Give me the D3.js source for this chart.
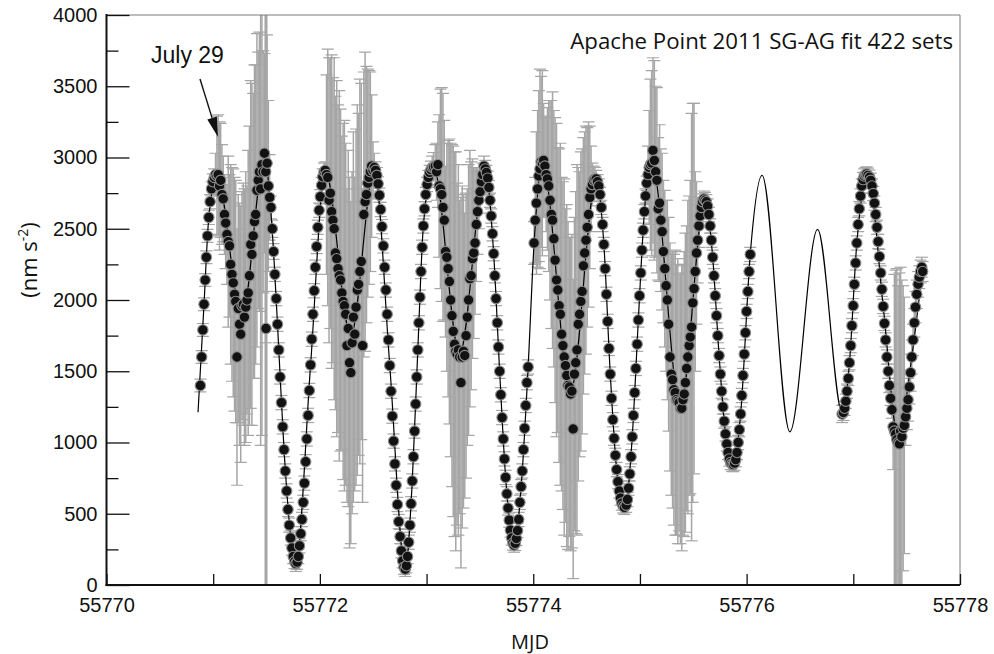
<!DOCTYPE html>
<html>
<head>
<meta charset="utf-8">
<script src="https://cdn.jsdelivr.net/npm/d3@7"></script>
<style>
  body { margin: 0; background: #fff; }
  .axis text { font-family: "Liberation Sans", Arial, sans-serif; font-size: 20px; fill: #111; }
  .axis line { stroke: #111; stroke-width: 1.3; }
  .label { font-family: "Open Sans", sans-serif; fill: #111; }
</style>
</head>
<body>
<svg id="chart" width="994" height="654"></svg>
<script>
// MJD offset; observation times are days after this base
const mjdBase = 55770;

const xTicks = [55770, 55771, 55772, 55773, 55774, 55775, 55776, 55777, 55778];
const yMajor = [0, 500, 1000, 1500, 2000, 2500, 3000, 3500, 4000];
const yMinor = [250, 750, 1250, 1750, 2250, 2750, 3250, 3750];

// fitted tide curve (black line), days after base / nm s-2
const modelDay = [0.858, 0.914, 0.959, 1.035, 1.270, 1.480, 1.566, 1.615, 1.664, 1.775,
  1.913, 2.050, 2.290, 2.510, 2.655, 2.800, 2.866, 2.918, 2.970, 3.065,
  3.310, 3.550, 3.629, 3.685, 3.741, 3.820, 3.897, 3.952, 4.008, 4.085,
  4.350, 4.590, 4.662, 4.722, 4.782, 4.860, 4.928, 4.985, 5.042, 5.110,
  5.380, 5.610, 5.682, 5.742, 5.802, 5.875, 5.944, 6.034, 6.145, 6.405,
  6.665, 6.900, 6.964, 7.033, 7.140, 7.280, 7.420, 7.548, 7.650];
const modelGal = [1212, 1970, 2580, 2870, 1880, 2990, 2340, 1650, 950, 150,
  1545, 2910, 1750, 2920, 1540, 110, 730, 1650, 2520, 2935,
  1620, 2910, 2325, 1500, 755, 280, 800, 1530, 2400, 2960,
  1360, 2840, 2390, 1480, 810, 545, 1040, 1860, 2620, 2960,
  1260, 2700, 2300, 1610, 1060, 845, 1200, 2320, 2875, 1075,
  2495, 1195, 1560, 2400, 2870, 1955, 1040, 1600, 2220];

// measured sets: time (days after base), gravity, error bar half-length
const obsDay = [
  0.880,0.892,0.903,0.914,0.925,0.936,0.947,0.959,0.971,0.984,0.997,1.010,1.022,1.035,
  1.047,1.059,1.070,1.082,1.094,1.106,1.117,1.129,1.141,1.153,1.164,1.176,1.188,1.200,1.211,1.223,1.235,1.247,1.258,1.270,
  1.282,1.293,1.305,1.317,1.328,1.340,1.352,1.363,1.375,1.387,1.398,1.410,1.422,1.433,1.445,1.457,1.468,1.480,
  1.492,1.495,1.505,1.517,1.529,1.541,1.554,1.566,1.578,1.591,1.603,1.615,1.627,1.640,1.652,1.664,1.676,1.689,1.701,1.713,1.726,1.738,1.750,1.763,1.775,
  1.786,1.798,1.809,1.821,1.832,1.844,1.855,1.867,1.878,1.890,1.901,1.913,1.924,1.935,1.947,1.958,1.970,1.981,1.993,2.004,2.016,2.027,2.039,2.050,
  2.062,2.074,2.086,2.098,2.110,2.122,2.134,2.146,2.158,2.170,2.182,2.194,2.206,2.218,2.230,2.242,2.254,2.266,2.278,2.290,
  2.302,2.314,2.327,2.339,2.351,2.363,2.375,2.388,2.400,2.412,2.424,2.437,2.449,2.461,2.473,2.485,2.498,2.510,
  2.522,2.534,2.546,2.558,2.570,2.582,2.595,2.607,2.619,2.631,2.643,2.655,2.667,2.679,2.691,2.703,2.715,2.727,2.739,2.752,2.764,2.776,2.788,2.800,
  2.811,2.822,2.833,2.844,2.855,2.866,2.877,2.888,2.898,2.908,2.918,2.928,2.938,2.948,2.959,2.970,2.981,2.993,3.005,3.017,3.029,3.041,3.053,3.065,
  3.082,3.094,3.106,3.118,3.130,3.142,3.154,3.166,3.178,3.190,3.202,3.214,3.226,3.238,3.250,3.262,3.274,3.286,3.298,3.310,
  3.322,3.334,3.346,3.358,3.370,3.382,3.394,3.406,3.418,3.430,3.442,3.454,3.466,3.478,3.490,3.502,3.514,3.526,3.538,3.550,
  3.561,3.573,3.584,3.595,3.606,3.618,3.629,3.640,3.651,3.663,3.674,3.685,3.696,3.708,3.719,3.730,3.741,3.753,3.764,3.775,3.786,3.798,3.809,3.820,
  3.831,3.842,3.853,3.864,3.875,3.886,3.897,3.908,3.919,3.930,3.941,3.952,4.008,4.019,4.030,4.041,4.052,4.063,4.074,4.085,
  4.097,4.109,4.121,4.133,4.145,4.157,4.169,4.181,4.193,4.205,4.218,4.230,4.242,4.254,4.266,4.278,4.290,4.302,4.314,4.326,4.338,4.350,
  4.362,4.374,4.386,4.398,4.410,4.422,4.434,4.446,4.458,4.470,4.482,4.494,4.506,4.518,4.530,4.542,4.554,4.566,4.578,4.590,
  4.602,4.614,4.626,4.638,4.650,4.662,4.674,4.686,4.698,4.710,4.722,4.734,4.746,4.758,4.770,4.782,4.794,4.806,4.818,4.830,4.842,4.854,
  4.871,4.883,4.894,4.905,4.917,4.928,4.939,4.951,4.962,4.974,4.985,4.996,5.008,5.019,5.030,5.042,5.053,5.064,5.076,5.087,5.098,5.110,
  5.122,5.135,5.147,5.159,5.171,5.184,5.196,5.208,5.220,5.233,5.245,5.257,5.269,5.282,5.294,5.306,5.318,5.331,5.343,5.355,5.367,5.380,
  5.392,5.403,5.415,5.426,5.438,5.449,5.461,5.472,5.484,5.495,5.507,5.518,5.530,5.541,5.553,5.564,5.576,5.587,5.599,5.610,
  5.622,5.634,5.646,5.658,5.670,5.682,5.694,5.706,5.718,5.730,5.742,5.754,5.766,5.778,5.790,5.802,5.814,5.826,5.838,5.850,5.862,5.875,
  5.887,5.898,5.910,5.921,5.932,5.944,5.955,5.966,5.978,5.989,6.000,6.012,6.023,6.034,
  6.895,6.907,6.918,6.930,6.941,6.953,6.964,6.976,6.987,6.999,7.010,7.022,7.033,7.045,7.056,7.068,7.079,7.091,7.102,7.114,7.125,7.137,
  7.152,7.163,7.175,7.187,7.198,7.210,7.222,7.233,7.245,7.257,7.268,7.280,7.292,7.303,7.315,7.327,7.338,7.350,7.362,7.373,7.385,7.397,7.408,7.420,
  7.432,7.443,7.455,7.467,7.478,7.490,7.502,7.513,7.525,7.537,7.548,7.560,7.572,7.583,7.595,7.607,7.618,7.630,7.642,7.650
];
const obsGal = [
  1400,1600,1790,1970,2140,2300,2450,2580,2690,2780,2830,2860,2880,2870,
  2880,2800,2840,2740,2710,2600,2540,2460,2410,2380,2250,2180,2120,2040,1990,1600,1940,1830,1760,1960,
  1970,1880,1950,2000,2050,2170,2390,2320,2450,2550,2600,2770,2840,2900,2780,2950,2900,3030,
  2900,1800,2960,2800,2720,2650,2500,2340,2180,2010,1830,1650,1460,1280,1110,950,800,660,530,420,330,260,200,165,150,
  160,200,275,360,460,580,715,865,1025,1190,1365,1545,1725,1900,2065,2230,2375,2510,2630,2725,2805,2865,2900,2910,
  2880,2860,2700,2750,2620,2560,2500,2330,2290,2220,2170,2140,2050,1990,1960,1900,1680,1800,1560,1490,
  1700,1880,1760,1950,2070,2110,2200,2270,1680,2600,2690,2740,2820,2860,2900,2940,2910,2930,
  2910,2875,2815,2735,2635,2515,2380,2230,2070,1900,1720,1540,1360,1185,1010,850,700,565,445,340,240,170,125,110,
  135,200,300,420,570,730,900,1080,1270,1460,1650,1840,2020,2200,2370,2520,2640,2740,2810,2860,2895,2915,2930,2935,
  2940,2900,2950,2800,2780,2740,2650,2560,2340,2300,2220,2130,2000,1890,1780,1690,1640,1620,1650,1600,
  1420,1600,1640,1610,1750,1880,2000,2150,2170,2290,2330,2400,2530,2620,2700,2760,2830,2880,2940,2920,
  2895,2855,2790,2700,2590,2465,2325,2170,2010,1840,1670,1500,1335,1175,1025,885,755,640,540,455,385,330,295,280,
  292,326,382,460,580,690,800,950,1100,1260,1420,1530,2400,2560,2680,2780,2870,2920,2970,2960,
  2980,2940,2880,2850,2800,2700,2600,2560,2430,2280,2140,2070,1960,1900,1760,1680,1600,1540,1470,1400,1390,1340,
  1360,1095,1480,1560,1650,1830,1900,1990,2060,2240,2330,2420,2510,2600,2720,2780,2810,2840,2850,2850,
  2830,2800,2740,2650,2530,2390,2220,2040,1850,1660,1480,1310,1160,1030,910,810,725,660,610,575,555,545,
  560,600,680,780,900,1040,1190,1350,1520,1690,1860,2030,2190,2350,2490,2620,2730,2820,2880,2930,2950,2960,
  3050,2980,2900,2840,2640,2680,2560,2480,2340,2220,2100,2000,1830,1600,1480,1440,1370,1350,1300,1290,1280,1240,
  1240,1300,1340,1420,1520,1600,1680,1740,1810,1980,2080,2200,2330,2420,2520,2590,2650,2690,2710,2700,
  2690,2660,2600,2520,2420,2300,2170,2030,1890,1750,1610,1480,1360,1250,1150,1060,990,930,885,860,848,845,
  855,880,930,1000,1090,1200,1330,1470,1620,1770,1920,2060,2200,2320,
  1200,1210,1240,1290,1360,1450,1560,1680,1820,1960,2110,2260,2400,2530,2640,2730,2800,2845,2870,2880,2885,2875,
  2862,2840,2800,2747,2680,2600,2510,2410,2305,2190,2075,1955,1836,1720,1600,1500,1400,1310,1230,1110,1080,1060,1020,1000,
  990,1080,1040,1100,1120,1180,1240,1300,1390,1490,1600,1720,1840,1950,2040,2110,2160,2200,2230,2200
];
const obsErr = [
  45,45,45,45,45,45,45,50,50,50,55,60,150,420,
  420,450,400,350,300,280,320,350,600,500,700,750,800,820,850,900,800,850,900,800,
  850,900,950,800,1000,1050,1150,1200,1000,1100,1050,1100,900,980,1800,1900,850,700,
  1200,3000,900,600,300,80,60,55,50,50,50,50,50,50,50,50,50,50,50,50,50,50,50,50,55,
  50,50,50,50,50,50,50,50,50,50,50,50,50,50,50,50,50,50,50,50,55,55,60,60,
  700,900,1000,950,1100,1000,1200,1100,1250,1150,1300,1200,1100,1250,1300,1200,1100,1250,1300,1200,
  1200,1300,1100,1250,1300,1200,1350,1250,1100,1000,1050,900,800,750,700,500,200,100,
  60,55,50,50,50,50,50,50,50,50,50,50,50,50,50,50,50,50,50,50,50,50,50,50,
  50,50,50,50,50,50,50,50,50,50,50,50,50,50,50,50,50,50,50,50,50,60,80,100,
  150,200,300,500,700,750,800,700,600,800,900,1000,1100,1200,1300,1350,1400,1200,1300,1100,
  1300,1200,1100,1000,1000,900,950,900,800,700,600,500,400,300,200,150,100,80,70,60,
  50,50,50,50,50,50,50,50,50,50,50,50,50,50,50,50,50,50,50,50,50,50,50,50,
  50,50,50,50,50,50,50,50,50,50,50,50,150,300,500,550,600,700,600,650,
  400,350,400,500,600,700,800,900,900,1000,1100,1000,1100,1200,1100,1150,1250,1100,1200,1150,1050,1100,
  1100,1050,1100,1200,1300,1100,1000,1050,1000,900,850,800,700,650,500,300,150,100,80,60,
  50,50,50,50,50,50,50,50,50,50,50,50,50,50,50,50,50,50,50,50,50,50,
  50,50,50,50,50,50,50,50,50,50,50,50,50,50,50,50,50,50,200,400,600,650,
  650,700,600,650,500,550,500,550,500,550,600,700,750,800,850,900,950,1000,950,1000,900,950,
  1000,950,1000,1050,1000,1100,1050,1100,1500,1400,1300,700,500,300,150,80,60,55,55,55,
  50,50,50,50,50,50,50,50,50,50,50,50,50,50,50,50,50,50,50,50,50,50,
  50,50,50,50,50,50,50,50,50,50,50,50,50,50,
  60,55,50,50,50,50,50,50,50,50,50,50,50,50,50,50,50,50,50,50,50,50,
  50,50,50,50,50,50,50,50,50,50,50,50,50,50,50,50,50,50,60,300,1100,1150,1200,1100,
  1200,1150,1100,1000,900,200,150,150,120,130,120,110,100,110,100,90,80,80,70,70
];

if (obsDay.length !== obsGal.length || obsDay.length !== obsErr.length) {
  throw new Error("length mismatch " + obsDay.length + " " + obsGal.length + " " + obsErr.length);
}

const obs = obsDay.map((d, i) => ({ mjd: mjdBase + d, g: obsGal[i], e: obsErr[i] }));
const model = modelDay.map((d, i) => ({ mjd: mjdBase + d, g: modelGal[i] }));

const svg = d3.select("#chart");
const plotLeft = 106.5, plotRight = 960, plotTop = 15, plotBottom = 585;

const x = d3.scaleLinear().domain([55770, 55778]).range([plotLeft, plotRight]);
const y = d3.scaleLinear().domain([0, 4000]).range([plotBottom, plotTop]);

svg.append("defs").append("clipPath").attr("id", "plotClip")
  .append("rect")
  .attr("x", plotLeft).attr("y", plotTop)
  .attr("width", plotRight - plotLeft).attr("height", plotBottom - plotTop);

const plot = svg.append("g").attr("clip-path", "url(#plotClip)");

// error bars; the very long ones read a bit heavier in the original
const bars = plot.append("g").attr("class", "errorbars")
  .attr("stroke", "#a6a6a6");

bars.selectAll("line.bar")
  .data(obs)
  .enter()
  .append("line")
  .attr("class", "bar")
  .attr("x1", d => x(d.mjd)).attr("x2", d => x(d.mjd))
  .attr("y1", d => y(d.g - d.e)).attr("y2", d => y(d.g + d.e))
  .attr("stroke-width", d => d.e > 2000 ? 3 : 1.5);

const caps = [];
obs.forEach(d => { caps.push({ mjd: d.mjd, g: d.g - d.e }); caps.push({ mjd: d.mjd, g: d.g + d.e }); });
bars.selectAll("line.cap")
  .data(caps)
  .enter()
  .append("line")
  .attr("class", "cap")
  .attr("x1", d => x(d.mjd) - 6).attr("x2", d => x(d.mjd) + 6)
  .attr("y1", d => y(d.g)).attr("y2", d => y(d.g))
  .attr("stroke-width", 1.2);

// model curve
const line = d3.line()
  .x(d => x(d.mjd))
  .y(d => y(d.g))
  .curve(d3.curveMonotoneX);

plot.append("path")
  .datum(model)
  .attr("d", line)
  .attr("fill", "none")
  .attr("stroke", "#000")
  .attr("stroke-width", 1.2);

// observation points
plot.append("g").selectAll("circle")
  .data(obs)
  .enter()
  .append("circle")
  .attr("cx", d => x(d.mjd))
  .attr("cy", d => y(d.g))
  .attr("r", 5.2)
  .attr("fill", "#121212")
  .attr("stroke", "#8c8c8c")
  .attr("stroke-width", 1.1);

// frame: light top/right, dark axes
svg.append("line").attr("x1", plotLeft).attr("x2", plotRight).attr("y1", plotTop).attr("y2", plotTop)
  .attr("stroke", "#7a7a7a").attr("stroke-width", 1);
svg.append("line").attr("x1", plotRight).attr("x2", plotRight).attr("y1", plotTop).attr("y2", plotBottom)
  .attr("stroke", "#7a7a7a").attr("stroke-width", 1);

const yAxis = svg.append("g").attr("class", "axis")
  .attr("transform", "translate(" + plotLeft + ",0)")
  .call(d3.axisLeft(y).tickValues(yMajor).tickSize(-23).tickPadding(9).tickFormat(d3.format("d")));
yAxis.select(".domain").remove();

const yAxisMinor = svg.append("g").attr("class", "axis")
  .attr("transform", "translate(" + plotLeft + ",0)")
  .call(d3.axisLeft(y).tickValues(yMinor).tickSize(-12).tickFormat(""));
yAxisMinor.select(".domain").remove();

const xAxis = svg.append("g").attr("class", "axis")
  .attr("transform", "translate(0," + plotBottom + ")")
  .call(d3.axisBottom(x).tickValues(xTicks).tickSize(-11).tickPadding(13)
    .tickFormat(d => d % 2 === 0 ? d : ""));
xAxis.select(".domain").remove();

svg.append("line").attr("x1", plotLeft).attr("x2", plotLeft).attr("y1", plotTop - 1).attr("y2", plotBottom + 1)
  .attr("stroke", "#111").attr("stroke-width", 2);
svg.append("line").attr("x1", plotLeft - 1).attr("x2", plotRight).attr("y1", plotBottom).attr("y2", plotBottom)
  .attr("stroke", "#111").attr("stroke-width", 2);

// annotation
svg.append("text")
  .attr("x", 151).attr("y", 63)
  .attr("font-family", "'Liberation Sans', Arial, sans-serif")
  .attr("font-size", 23)
  .attr("fill", "#111")
  .text("July 29");

const tip = [218, 137], tail = [200, 79];
const len = Math.hypot(tip[0] - tail[0], tip[1] - tail[1]);
const ux = (tip[0] - tail[0]) / len, uy = (tip[1] - tail[1]) / len;
const headLen = 20, headHalf = 5;
const bx = tip[0] - ux * headLen, by = tip[1] - uy * headLen;
svg.append("line")
  .attr("x1", tail[0]).attr("y1", tail[1]).attr("x2", bx).attr("y2", by)
  .attr("stroke", "#111").attr("stroke-width", 1.4);
svg.append("path")
  .attr("d", "M" + tip + "L" + [bx + uy * headHalf, by - ux * headHalf] + "L" + [bx - uy * headHalf, by + ux * headHalf] + "Z")
  .attr("fill", "#111");

const legend = svg.append("text")
  .attr("class", "label")
  .attr("x", 953).attr("y", 49)
  .attr("text-anchor", "end")
  .attr("font-size", 18)
  .text("Apache Point 2011 SG-AG fit 422 sets");
const lw = legend.node().getComputedTextLength();
legend.attr("font-size", 18 * 383 / lw);

const yLabel = svg.append("text")
  .attr("class", "label")
  .attr("transform", "translate(37,260) rotate(-90)")
  .attr("text-anchor", "middle")
  .attr("font-size", 22);
yLabel.append("tspan").text("(nm s");
yLabel.append("tspan").attr("font-size", 14).attr("dy", -9).text("-2");
yLabel.append("tspan").attr("dy", 9).text(")");

svg.append("text")
  .attr("class", "label")
  .attr("x", 530).attr("y", 649)
  .attr("text-anchor", "middle")
  .attr("font-size", 20)
  .text("MJD");
</script>
</body>
</html>
